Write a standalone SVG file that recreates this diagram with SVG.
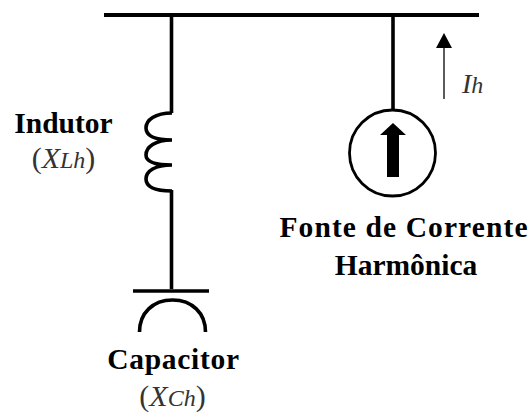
<svg xmlns="http://www.w3.org/2000/svg" width="529" height="412" viewBox="0 0 529 412">
<style>
.w{fill:none;stroke:#000;stroke-width:3.6}
.b{font:bold 29.5px "Liberation Serif",serif;fill:#000;text-anchor:middle}
.i{font:italic 30px "Liberation Serif",serif;fill:#333}
.s{font-size:24px}
.p{font:30px "Liberation Serif",serif;fill:#333}
</style>
<rect width="529" height="412" fill="#fff"/>
<g id="connectors">
<path class="w" style="stroke-width:4" d="M104 15H479"/>
<path class="w" d="M171.500 15V113"/>
<path class="w" d="M171.500 190V289"/>
<path class="w" d="M393 15V110"/>
<path fill="none" stroke="#333" stroke-width="1.600" d="M444 99V47"/>
<path fill="#000" d="M444 33L452 48H436Z"/>
</g>
<g id="inductor">
<path class="w" d="M172 113C155 113 146 120 146 128C146 136 155 140 172 140M172 140C155 140 146 147 146 155C146 162 155 165 172 165M172 165C155 165 146 171 146 179C146 187 155 191 172 191" stroke-linejoin="round"/>
<text class="b" x="63.500" y="133">Indutor</text>
<text x="63.500" y="168" class="p" text-anchor="middle">(<tspan class="i">X</tspan><tspan class="i s">Lh</tspan>)</text>
</g>
<g id="capacitor">
<path class="w" d="M133 291H209"/>
<path class="w" d="M139.500 332C139.500 313 153 300 172.500 300C192 300 205.500 313 205.500 332"/>
<text class="b" x="173.500" y="369" style="letter-spacing:.7px">Capacitor</text>
<text x="172.500" y="406" class="p" text-anchor="middle">(<tspan class="i">X</tspan><tspan class="i s">Ch</tspan>)</text>
</g>
<g id="source">
<circle cx="392.500" cy="153" r="43" fill="#fff" stroke="#000" stroke-width="2.800"/>
<path fill="#000" d="M393 123L406 135H399V177H387V135H380Z"/>
<text class="b" x="404" y="237" style="letter-spacing:1.100px">Fonte de Corrente</text>
<text class="b" x="406" y="275">Harmônica</text>
</g>
<g id="current-label">
<text x="462" y="93"><tspan class="i" style="font-size:28px">I</tspan><tspan class="i s">h</tspan></text>
</g>
</svg>
